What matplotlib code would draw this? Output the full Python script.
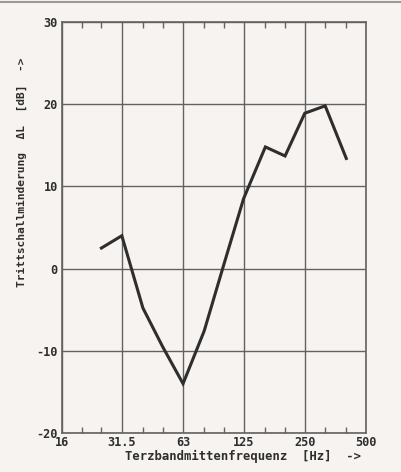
import matplotlib
matplotlib.use("Agg")
import matplotlib.pyplot as plt
from matplotlib.lines import Line2D
from matplotlib.ticker import FixedLocator, NullFormatter

# third-octave band centre frequencies and measured improvement
freqs = [25, 31.5, 40, 50, 63, 80, 100, 125, 160, 200, 250, 315, 400]
delta_l = [2.5, 4.0, -4.8, -9.5, -14.0, -7.6, 0.5, 8.5, 14.8, 13.7, 18.9, 19.8, 13.4]

x_major = [16, 31.5, 63, 125, 250, 500]
x_major_labels = ["16", "31.5", "63", "125", "250", "500"]
x_minor = [20, 25, 40, 50, 80, 100, 160, 200, 315, 400]
y_major = [-20, -10, 0, 10, 20, 30]

paper = "#f6f3f0"
ink = "#2e2e2e"
grid = "#626262"
font = {"family": "DejaVu Sans Mono", "weight": "bold"}

fig = plt.figure(figsize=(4.01, 4.72), dpi=100, facecolor=paper)
ax = fig.add_axes([62 / 401, 1 - 433 / 472, (366 - 62) / 401, (433 - 22) / 472])
ax.set_facecolor(paper)

ax.set_xscale("log", base=2)
ax.set_xlim(16, 500)
ax.set_ylim(-20, 30)

ax.xaxis.set_major_locator(FixedLocator(x_major))
ax.set_xticks(x_major, x_major_labels)
ax.xaxis.set_minor_locator(FixedLocator(x_minor))
ax.xaxis.set_minor_formatter(NullFormatter())
ax.set_yticks(y_major, [str(v) for v in y_major])

ax.grid(True, which="major", color=grid, lw=1.0)
ax.tick_params(axis="x", which="major", length=0, pad=2, labelcolor=ink)
ax.tick_params(axis="x", which="minor", direction="in", length=4, width=1.0,
               color=grid, top=True, bottom=True)
ax.tick_params(axis="y", length=0, pad=3, labelcolor=ink)
for lab in ax.get_xticklabels() + ax.get_yticklabels():
    lab.set_fontfamily(font["family"])
    lab.set_fontweight(font["weight"])
    lab.set_fontsize(8.6)
for s in ax.spines.values():
    s.set_color(grid)
    s.set_linewidth(1.2)

ax.plot(freqs, delta_l, color=ink, lw=2.2, solid_joinstyle="miter")

fig.text(243 / 401, 1 - 456 / 472, "Terzbandmittenfrequenz  [Hz]  ->",
         ha="center", va="center", fontsize=8.8, color=ink, **font)
fig.text(22 / 401, 1 - 172 / 472, "Trittschallminderung  \u0394L  [dB]  ->",
         ha="center", va="center", rotation=90, fontsize=8.1, color=ink, **font)

fig.add_artist(Line2D([0, 1], [1 - 2 / 472, 1 - 2 / 472], color="#9a9a9a", lw=1.5,
                      transform=fig.transFigure))

fig.savefig("out.png", dpi=100, facecolor=paper)
